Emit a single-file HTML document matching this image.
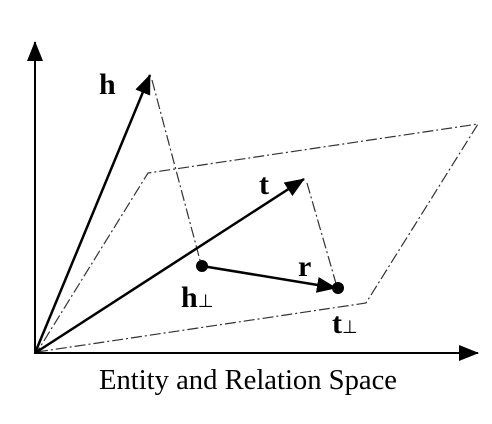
<!DOCTYPE html>
<html><head><meta charset="utf-8"><style>
html,body{margin:0;padding:0;background:#fff;}
svg{display:block;}
text{font-family:"Liberation Serif",serif;fill:#000;}
</style></head><body>
<svg width="492" height="424" viewBox="0 0 492 424">
<defs>
<marker id="arb" markerWidth="20" markerHeight="16" refX="19" refY="8" orient="auto" markerUnits="userSpaceOnUse" viewBox="0 0 20 16">
<path d="M0,0 L20,8 L0,16 z" fill="#000"/></marker>
</defs>
<g fill="none" stroke="#333" stroke-width="1.2" stroke-dasharray="11,3,2,3">
<path d="M37,352 L366,303 L478,124 L148,173 Z"/>
</g>
<g fill="none" stroke="#333" stroke-width="1.2" stroke-dasharray="11,3,2,3">
<line x1="152" y1="80" x2="201" y2="264"/>
<line x1="307" y1="183" x2="337" y2="287"/>
</g>
<line x1="35" y1="354" x2="35" y2="42" stroke="#000" stroke-width="2" marker-end="url(#arb)"/>
<line x1="34" y1="353" x2="478" y2="353" stroke="#000" stroke-width="2" marker-end="url(#arb)"/>
<line x1="35" y1="353" x2="150" y2="75" stroke="#000" stroke-width="2.5" marker-end="url(#arb)"/>
<line x1="35" y1="353" x2="304" y2="179" stroke="#000" stroke-width="2.5" marker-end="url(#arb)"/>
<line x1="202" y1="266" x2="336" y2="288" stroke="#000" stroke-width="2.5" marker-end="url(#arb)"/>
<circle cx="202" cy="266" r="6" fill="#000"/>
<circle cx="338" cy="288" r="6" fill="#000"/>
<text x="99" y="94" font-size="30" font-weight="bold">h</text>
<text x="259" y="194" font-size="30" font-weight="bold">t</text>
<text x="298" y="276" font-size="30" font-weight="bold">r</text>
<text x="181" y="307" font-size="30" font-weight="bold">h<tspan font-size="18" font-weight="normal">⊥</tspan></text>
<text x="332" y="333" font-size="30" font-weight="bold">t<tspan font-size="18" font-weight="normal">⊥</tspan></text>
<text x="248" y="389" font-size="28" text-anchor="middle" textLength="298" lengthAdjust="spacingAndGlyphs">Entity and Relation Space</text>
</svg>
</body></html>
